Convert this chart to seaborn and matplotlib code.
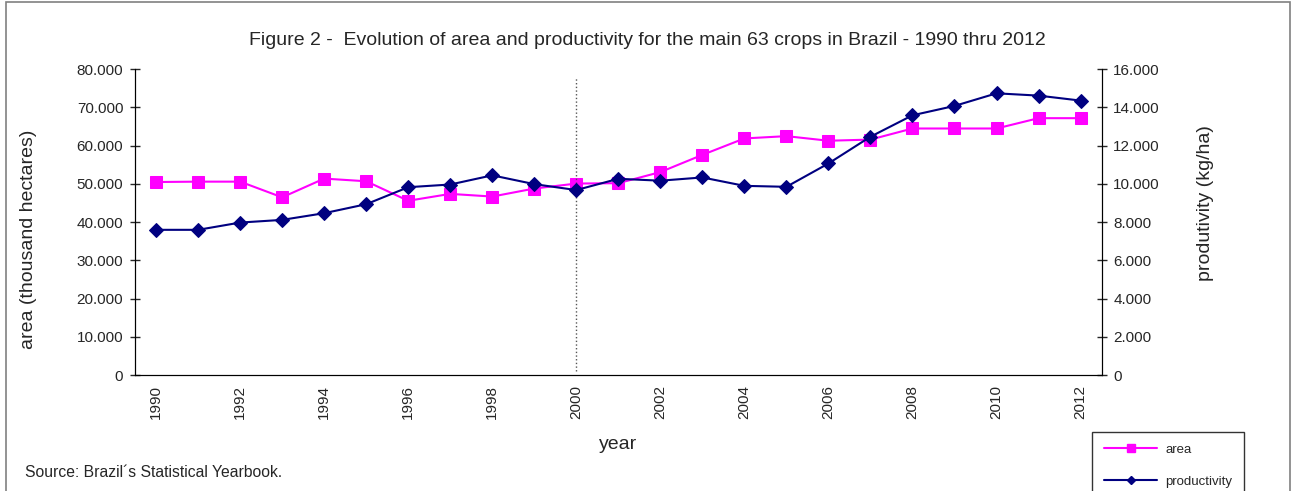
import matplotlib
matplotlib.use("Agg")
import matplotlib.pyplot as plt
import matplotlib.patches as mpatches
from matplotlib.lines import Line2D
from matplotlib.ticker import FuncFormatter, MultipleLocator
import pandas as pd
import seaborn as sns

# data
years = list(range(1990, 2013))
area = [50.5, 50.6, 50.6, 46.5, 51.4, 50.7, 45.6, 47.4, 46.7, 48.8, 50.1,
        50.2, 53.1, 57.6, 61.9, 62.5, 61.3, 61.6, 64.5, 64.5, 64.5, 67.2, 67.2]
productivity = [7.60, 7.60, 7.98, 8.12, 8.47, 8.94, 9.83, 9.97, 10.45, 9.99, 9.68,
                10.27, 10.17, 10.34, 9.90, 9.85, 11.07, 12.47, 13.59, 14.08, 14.74, 14.62, 14.36]

df = pd.DataFrame({"year": years,
                   "area": [v * 1000 for v in area],
                   "productivity": [v * 1000 for v in productivity]})

sns.set_style("white")
plt.rcParams["font.family"] = ["Liberation Sans", "DejaVu Sans"]

fig = plt.figure(figsize=(12.99, 4.91), dpi=100)
ax = fig.add_axes([0.104, 0.236, 0.744, 0.623])
ax2 = ax.twinx()

magenta = "#FF00FF"
navy = "#000080"

sns.lineplot(data=df, x="year", y="area", ax=ax, color=magenta, marker="s",
             markersize=9, markeredgecolor=magenta, linewidth=1.5)
sns.lineplot(data=df, x="year", y="productivity", ax=ax2, color=navy, marker="D",
             markersize=7, markeredgecolor=navy, linewidth=1.5)

thousands = FuncFormatter(lambda v, p: "0" if v == 0 else f"{int(v):,}".replace(",", "."))

ax.set_xlim(1989.5, 2012.5)
ax.set_ylim(0, 80000)
ax2.set_ylim(0, 16000)
ax.yaxis.set_major_locator(MultipleLocator(10000))
ax2.yaxis.set_major_locator(MultipleLocator(2000))
ax.yaxis.set_major_formatter(thousands)
ax2.yaxis.set_major_formatter(thousands)

ax.set_xticks(years[::2])
ax.set_xticklabels([str(y) for y in years[::2]], rotation=90, fontsize=11)
ax.set_xticks([y - 0.5 for y in years] + [2012.5], minor=True)
ax.tick_params(axis="x", which="major", length=0, pad=7)
ax.tick_params(axis="x", which="minor", length=7, direction="inout", width=1)
ax.tick_params(axis="y", length=7, direction="inout", labelsize=11, width=1, left=True, pad=5)
ax2.tick_params(axis="y", length=7, direction="inout", labelsize=11, width=1, right=True, pad=5)

for a in (ax, ax2):
    a.spines["top"].set_visible(False)
    a.spines["left"].set_color("black")
    a.spines["right"].set_color("black")
    a.spines["bottom"].set_color("black")
    a.grid(False)

ax.set_xlabel("year", fontsize=14, labelpad=12)
ax.set_ylabel("area (thousand hectares)", fontsize=14)
ax2.set_ylabel("produtivity (kg/ha)", fontsize=14)
ax.yaxis.set_label_coords(-0.101, 0.444)
ax2.yaxis.set_label_coords(1.099, 0.562)

ax.axvline(2000, ymin=0.015, ymax=0.97, color="#555555", linestyle=":", linewidth=1)

fig.text(0.498, 0.918, "Figure 2 -  Evolution of area and productivity for the main 63 crops in Brazil - 1990 thru 2012",
         ha="center", va="center", fontsize=14)
fig.text(0.019, 0.037, "Source: Brazil\u00b4s Statistical Yearbook.", fontsize=11.3, va="center")

handles = [Line2D([], [], color=magenta, marker="s", markersize=6, linewidth=1.5),
           Line2D([], [], color=navy, marker="D", markersize=4.5, linewidth=1.5)]
leg = fig.legend(handles, ["area", "productivity"], loc="lower left",
                 bbox_to_anchor=(0.841, -0.018), fontsize=9.5, frameon=True,
                 fancybox=False, edgecolor="black", handlelength=4.0, handletextpad=0.6,
                 labelspacing=1.5, borderpad=0.9, borderaxespad=0)
leg.get_frame().set_linewidth(1)

fig.patches.append(mpatches.Rectangle((0.005, -0.01), 0.988, 1.005, transform=fig.transFigure,
                                      fill=False, edgecolor="#808080", linewidth=1.2))

fig.savefig("out.png", dpi=100)
